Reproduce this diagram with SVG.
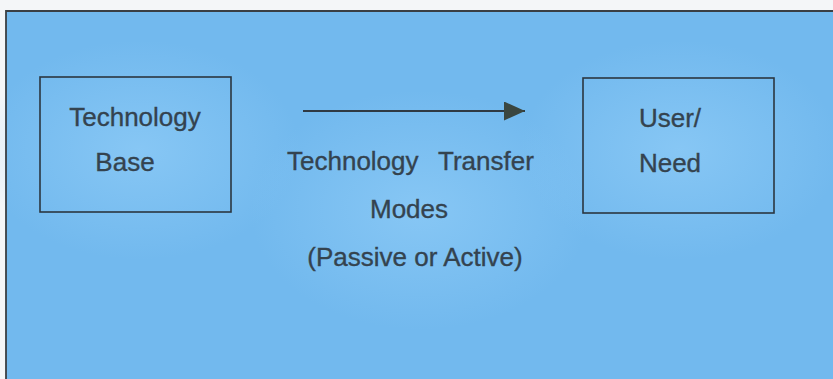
<svg xmlns="http://www.w3.org/2000/svg" width="833" height="379" viewBox="0 0 833 379">
  <style>
    .txt { font-family: "Liberation Sans", Arial, sans-serif; font-size: 26px; fill: #34434f; stroke: #34434f; stroke-width: 0.35; }
    .box { fill: none; stroke: #2b3640; stroke-width: 1.6; }
    .frame { fill: none; stroke: #3a3f44; stroke-width: 1.8; }
    .conn { stroke: #2f3a44; stroke-width: 1.8; fill: none; }
  </style>
  <defs>
    <radialGradient id="glowL" cx="0.5" cy="0.5" r="0.5">
      <stop offset="0" stop-color="#8ccaf6" stop-opacity="0.8"/>
      <stop offset="1" stop-color="#8ccaf6" stop-opacity="0"/>
    </radialGradient>
    <marker id="arrow" markerWidth="21" markerHeight="19" refX="21" refY="9.5" orient="auto" markerUnits="userSpaceOnUse" viewBox="0 0 21 19">
      <path d="M0,0 L21,9.5 L0,19 Z" fill="#3a4640"/>
    </marker>
  </defs>
  <rect x="0" y="0" width="833" height="379" fill="#f4f6f8"/>
  <rect x="6" y="11" width="827" height="368" fill="#72b9ee"/>
  <ellipse cx="140" cy="150" rx="160" ry="110" fill="url(#glowL)"/>
  <ellipse cx="420" cy="210" rx="170" ry="120" fill="url(#glowL)"/>
  <ellipse cx="680" cy="150" rx="160" ry="110" fill="url(#glowL)"/>
  <path class="frame" d="M6,379 L6,11 L833,11"/>

  <g id="connectors">
    <line class="conn" x1="303" y1="111" x2="525" y2="111" marker-end="url(#arrow)"/>
  </g>

  <g id="technology-base">
    <rect class="box" x="40" y="77" width="191" height="135"/>
    <text class="txt" x="135" y="126" text-anchor="middle">Technology</text>
    <text class="txt" x="125" y="171" text-anchor="middle">Base</text>
  </g>

  <g id="transfer-label">
    <text class="txt"><tspan x="287" y="170">Technology</tspan><tspan x="438" y="170">Transfer</tspan></text>
    <text class="txt" x="409" y="218" text-anchor="middle">Modes</text>
    <text class="txt" x="415" y="266" text-anchor="middle">(Passive or Active)</text>
  </g>

  <g id="user-need">
    <rect class="box" x="583" y="78" width="191" height="135"/>
    <text class="txt" x="670" y="127" text-anchor="middle">User/</text>
    <text class="txt" x="670" y="172" text-anchor="middle">Need</text>
  </g>
</svg>
